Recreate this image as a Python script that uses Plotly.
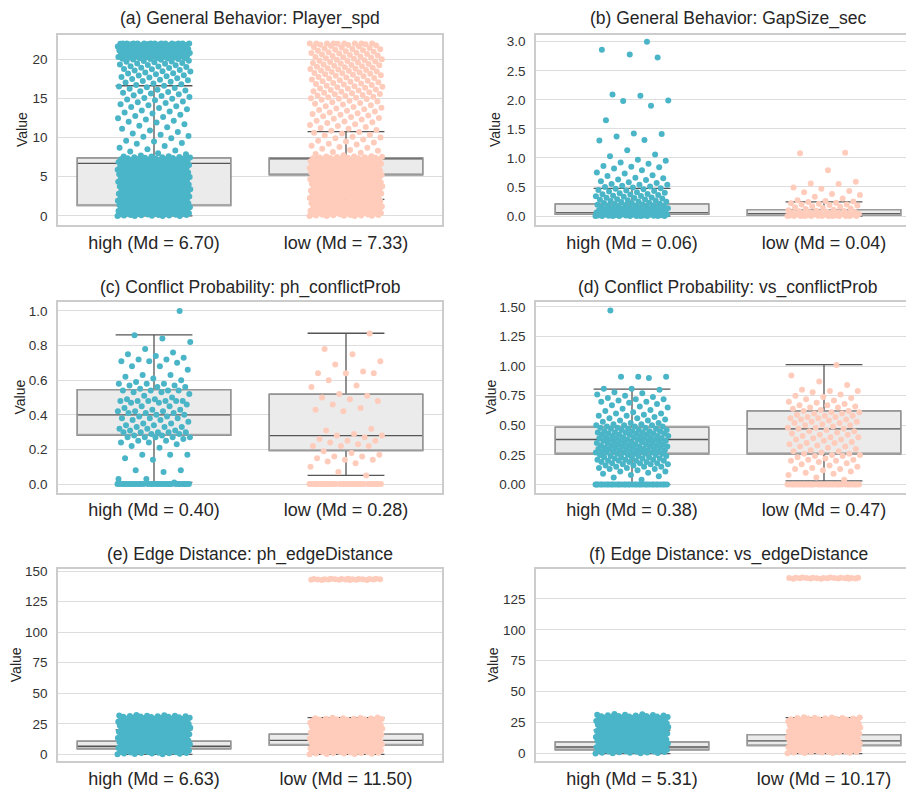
import plotly.graph_objects as go

# ---------------- data ----------------
TITLES = ["(a) General Behavior: Player_spd", "(b) General Behavior: GapSize_sec",
          "(c) Conflict Probability: ph_conflictProb", "(d) Conflict Probability: vs_conflictProb",
          "(e) Edge Distance: ph_edgeDistance", "(f) Edge Distance: vs_edgeDistance"]
GROUPS = ["high", "low"]
MEDIANS = [[6.70, 7.33], [0.06, 0.04], [0.40, 0.28], [0.38, 0.47], [6.63, 11.50], [5.31, 10.17]]
Q1 = [[1.33, 5.25], [0.03, 0.011], [0.282, 0.193], [0.259, 0.259], [4.5, 7.5], [3.0, 6.4]]
Q3 = [[7.4, 7.4], [0.21, 0.11], [0.545, 0.52], [0.484, 0.622], [10.8, 16.5], [9.5, 15.3]]
LOWER_FENCE = [[0.0, 2.1], [0.0, 0.0], [0.01, 0.05], [0.0, 0.03], [0.0, 0.0], [0.0, 0.0]]
UPPER_FENCE = [[16.6, 10.75], [0.475, 0.245], [0.862, 0.871], [0.805, 1.013], [20.0, 30.0], [19.0, 29.0]]
Y_TICKS = [[0, 5, 10, 15, 20], [0, 0.5, 1.0, 1.5, 2.0, 2.5, 3.0], [0, 0.2, 0.4, 0.6, 0.8, 1.0],
           [0, 0.25, 0.5, 0.75, 1.0, 1.25, 1.5], [0, 25, 50, 75, 100, 125, 150], [0, 25, 50, 75, 100, 125]]

A_HIGH = [0.0, 0.0, 0.0, 0.0, 0.02, 0.05, 0.07, 0.1, 0.12, 0.15, 0.18, 0.2, 0.24, 0.27, 0.3, 0.33, 0.35, 0.38,
          0.42, 0.45, 0.48, 0.5, 0.54, 0.57, 0.6, 0.63, 0.66, 0.7, 0.72, 0.75, 0.79, 0.82, 0.85, 0.88, 0.9, 0.94,
          0.97, 1.0, 1.04, 1.07, 1.1, 1.13, 1.16, 1.2, 1.23, 1.26, 1.3, 1.33, 1.36, 1.4, 1.43, 1.46, 1.5, 1.54,
          1.57, 1.6, 1.64, 1.67, 1.7, 1.74, 1.78, 1.81, 1.85, 1.88, 1.92, 1.95, 2.0, 2.04, 2.08, 2.12, 2.16, 2.2,
          2.24, 2.28, 2.32, 2.36, 2.4, 2.45, 2.5, 2.54, 2.58, 2.62, 2.66, 2.7, 2.75, 2.8, 2.84, 2.88, 2.92, 2.96,
          3.0, 3.05, 3.1, 3.14, 3.18, 3.22, 3.27, 3.32, 3.36, 3.4, 3.45, 3.5, 3.54, 3.58, 3.62, 3.67, 3.72, 3.76,
          3.8, 3.85, 3.9, 3.94, 3.98, 4.02, 4.07, 4.12, 4.16, 4.2, 4.25, 4.3, 4.34, 4.38, 4.43, 4.48, 4.52, 4.56,
          4.6, 4.65, 4.7, 4.74, 4.78, 4.83, 4.88, 4.92, 4.96, 5.0, 5.05, 5.1, 5.14, 5.18, 5.23, 5.28, 5.32, 5.36,
          5.4, 5.45, 5.5, 5.54, 5.58, 5.62, 5.67, 5.72, 5.76, 5.8, 5.85, 5.9, 5.94, 5.98, 6.02, 6.07, 6.12, 6.16,
          6.2, 6.25, 6.3, 6.34, 6.38, 6.42, 6.47, 6.52, 6.56, 6.6, 6.65, 6.7, 6.74, 6.78, 6.82, 6.87, 6.92, 6.96,
          7.0, 7.05, 7.1, 7.14, 7.18, 7.22, 7.27, 7.32, 7.36, 7.4, 7.44, 7.48, 7.52, 7.56, 7.6,
          0.04, 0.11, 0.19, 0.26, 0.34, 0.41, 0.49, 0.57, 0.64, 0.72, 0.8, 0.87, 0.95, 1.02, 1.1, 1.18, 1.25,
          1.33, 1.4, 1.48, 1.56, 1.63, 1.71, 1.78, 1.86, 1.94, 2.01, 2.09, 2.16, 2.24, 2.32, 2.39, 2.47, 2.54,
          2.62, 2.7, 2.77, 2.85, 2.92, 3.0, 3.08, 3.15, 3.23, 3.3, 3.38, 3.46, 3.53, 3.61, 3.68, 3.76, 3.84,
          3.91, 3.99, 4.06, 4.14, 4.22, 4.29, 4.37, 4.44, 4.52, 4.6, 4.67, 4.75, 4.82, 4.9, 4.98, 5.05, 5.13,
          5.2, 5.28, 5.36, 5.43, 5.51, 5.58, 5.66, 5.74, 5.81, 5.89, 5.96, 6.04, 6.12, 6.19, 6.27, 6.34, 6.42,
          6.5, 6.57, 6.65, 6.72, 6.8, 6.88, 6.95, 7.03, 7.1, 7.18, 7.26, 7.33, 7.41, 7.48, 7.56,
          7.7, 7.85, 8.0, 8.2, 8.35, 8.5, 8.7, 8.9, 9.2, 9.3, 9.5, 9.6, 9.9, 10.1, 10.2, 10.35, 10.5, 10.7, 10.9,
          11.1, 11.3, 11.5, 11.7, 11.9, 12.0, 12.15, 12.3, 12.45, 12.6, 12.75, 12.9, 13.05, 13.2, 13.3, 13.45,
          13.6, 13.75, 13.9, 14.0, 14.1, 14.25, 14.4, 14.5, 14.6, 14.75, 14.85, 14.95, 15.05, 15.15, 15.3, 15.4,
          15.5, 15.6, 15.7, 15.8, 15.9, 16.0, 16.1, 16.2, 16.3, 16.4, 16.5, 16.6, 16.7, 16.8, 16.9, 17.0, 17.1,
          17.2, 17.3, 17.35, 17.45, 17.55, 17.65, 17.7, 17.8, 17.9, 17.95, 18.05, 18.15, 18.2, 18.3, 18.4, 18.45,
          18.55, 18.6, 18.7, 18.75, 18.85, 18.9, 19.0, 19.05, 19.1, 19.2, 19.25, 19.3, 19.4, 19.45, 19.5, 19.6,
          19.65, 19.7, 19.75, 19.8, 19.9, 19.95, 20.0, 20.05, 20.1, 20.15, 20.2, 20.25, 20.3, 20.35, 20.4, 20.45,
          20.5, 20.55, 20.6, 20.65, 20.7, 20.75, 20.8, 20.85, 20.9, 20.95, 21.0, 21.05, 21.1, 21.15, 21.2, 21.25,
          21.3, 21.35, 21.4, 21.45, 21.5, 21.55, 21.6, 21.65, 21.7, 21.75, 21.8, 21.85, 21.9, 21.95, 22.0, 22.0,
          22.0, 22.0, 22.0, 22.0, 22.0, 22.0, 22.0, 22.0, 22.0, 22.0,
          20.02, 20.08, 20.12, 20.18, 20.22, 20.28, 20.32, 20.38, 20.42, 20.48, 20.52, 20.58, 20.62, 20.68,
          20.72, 20.78, 20.82, 20.88, 20.92, 20.98, 21.02, 21.08, 21.12, 21.18, 21.22, 21.28, 21.32, 21.38,
          21.42, 21.48, 21.52, 21.58, 21.62, 21.68, 21.72, 21.78, 21.82, 21.88, 21.92, 21.98]
A_LOW = [0.0, 0.0, 0.0, 0.01, 0.03, 0.06, 0.09, 0.11, 0.14, 0.17, 0.2, 0.22, 0.25, 0.29, 0.31, 0.34, 0.37, 0.4,
         0.43, 0.46, 0.49, 0.52, 0.55, 0.58, 0.61, 0.64, 0.68, 0.71, 0.74, 0.77, 0.8, 0.83, 0.87, 0.9, 0.93, 0.96,
         1.0, 1.05, 1.11, 1.16, 1.22, 1.27, 1.33, 1.38, 1.44, 1.5, 1.55, 1.61, 1.66, 1.72, 1.77, 1.83, 1.89, 1.94,
         2.0, 2.05, 2.11, 2.17, 2.22, 2.28, 2.33, 2.39, 2.45, 2.5, 2.54, 2.58, 2.62, 2.66, 2.7, 2.74, 2.78, 2.82,
         2.86, 2.9, 2.94, 2.98, 3.02, 3.06, 3.1, 3.14, 3.18, 3.22, 3.26, 3.3, 3.34, 3.38, 3.42, 3.46, 3.5, 3.54,
         3.58, 3.62, 3.66, 3.7, 3.74, 3.78, 3.82, 3.86, 3.9, 3.94, 3.98, 4.02, 4.06, 4.1, 4.14, 4.18, 4.22, 4.26,
         4.3, 4.34, 4.38, 4.42, 4.46, 4.5, 4.54, 4.58, 4.62, 4.66, 4.7, 4.74, 4.78, 4.82, 4.86, 4.9, 4.94, 4.98,
         5.02, 5.06, 5.1, 5.14, 5.18, 5.22, 5.26, 5.3, 5.34, 5.38, 5.42, 5.46, 5.5, 5.54, 5.58, 5.62, 5.66, 5.7,
         5.74, 5.78, 5.82, 5.86, 5.9, 5.94, 5.98, 6.02, 6.06, 6.1, 6.14, 6.18, 6.22, 6.26, 6.3, 6.34, 6.38, 6.42,
         6.46, 6.5, 6.54, 6.58, 6.62, 6.66, 6.7, 6.74, 6.78, 6.82, 6.86, 6.9, 6.94, 6.98, 7.02, 7.06, 7.1, 7.14,
         7.18, 7.22, 7.26, 7.3, 7.34, 7.38, 7.42, 7.46, 7.5, 7.54, 7.58, 7.62,
         0.05, 0.12, 0.2, 0.27, 0.35, 0.42, 0.5, 0.58, 0.65, 0.73, 0.81, 0.88, 0.96, 1.03, 1.11, 1.19, 1.26,
         1.34, 1.41, 1.49, 1.57, 1.64, 1.72, 1.79, 1.87, 1.95, 2.02, 2.1, 2.17, 2.25, 2.33, 2.4, 2.48, 2.55,
         2.63, 2.71, 2.78, 2.86, 2.93, 3.01, 3.09, 3.16, 3.24, 3.31, 3.39, 3.47, 3.54, 3.62, 3.69, 3.77, 3.85,
         3.92, 4.0, 4.07, 4.15, 4.23, 4.3, 4.38, 4.45, 4.53, 4.61, 4.68, 4.76, 4.83, 4.91, 4.99, 5.06, 5.14,
         5.21, 5.29, 5.37, 5.44, 5.52, 5.59, 5.67, 5.75, 5.82, 5.9, 5.97, 6.05, 6.13, 6.2, 6.28, 6.35, 6.43,
         6.51, 6.58, 6.66, 6.73, 6.81, 6.89, 6.96, 7.04, 7.11, 7.19, 7.27, 7.34, 7.42, 7.49, 7.57,
         7.75, 7.9, 8.05, 8.15, 8.3, 8.4, 8.55, 8.7, 8.8, 8.95, 9.1, 9.2, 9.35, 9.5, 9.6, 9.75, 9.9,
         10.0, 10.1, 10.25, 10.35, 10.5, 10.6, 10.7, 10.85, 10.95, 11.1, 11.2, 11.35, 11.45, 11.6, 11.7, 11.85,
         11.95, 12.05, 12.15, 12.3, 12.4, 12.5, 12.6, 12.7, 12.8, 12.9, 13.0, 13.1, 13.2, 13.3, 13.4, 13.5, 13.6,
         13.7, 13.8, 13.9, 14.0, 14.1, 14.2, 14.3, 14.4, 14.5, 14.6, 14.7, 14.8, 14.9, 14.95,
         15.0, 15.07, 15.14, 15.2, 15.28, 15.35, 15.42, 15.5, 15.56, 15.63, 15.7, 15.77, 15.84, 15.9, 15.98,
         16.05, 16.12, 16.2, 16.26, 16.33, 16.4, 16.47, 16.54, 16.6, 16.68, 16.75, 16.82, 16.9, 16.96, 17.03,
         17.1, 17.17, 17.24, 17.3, 17.38, 17.45, 17.52, 17.6, 17.66, 17.73, 17.8, 17.87, 17.94,
         18.0, 18.06, 18.12, 18.18, 18.24, 18.3, 18.36, 18.42, 18.48, 18.54, 18.6, 18.66, 18.72, 18.78, 18.84,
         18.9, 18.96, 19.02, 19.08, 19.14, 19.2, 19.26, 19.32, 19.38, 19.44, 19.5, 19.56, 19.62, 19.68, 19.74,
         19.8, 19.86, 19.92, 19.98, 20.04, 20.1, 20.16, 20.22, 20.28, 20.34, 20.4, 20.46, 20.52, 20.58, 20.64,
         20.7, 20.76, 20.82, 20.88, 20.94, 21.0, 21.06, 21.12, 21.18, 21.24, 21.3, 21.36, 21.42, 21.48, 21.54,
         21.6, 21.66, 21.72, 21.78, 21.84, 21.9, 21.96, 22.0, 22.0, 22.0, 22.0, 22.0, 22.0, 22.0, 22.0]

B_HIGH = [0.0, 0.0, 0.0, 0.0, 0.0, 0.0, 0.0, 0.0, 0.0, 0.0, 0.005, 0.005, 0.01, 0.01, 0.01, 0.015, 0.015, 0.02,
          0.02, 0.02, 0.025, 0.025, 0.03, 0.03, 0.03, 0.035, 0.035, 0.04, 0.04, 0.04, 0.045, 0.05, 0.05, 0.055,
          0.06, 0.06, 0.065, 0.07, 0.07, 0.075, 0.08, 0.08, 0.085, 0.09, 0.09, 0.095, 0.1, 0.1, 0.105, 0.11,
          0.115, 0.12, 0.12, 0.125, 0.13, 0.135, 0.14, 0.14, 0.145, 0.15, 0.155, 0.16, 0.165, 0.17, 0.175, 0.18,
          0.185, 0.19, 0.195, 0.2, 0.205, 0.21, 0.22, 0.225, 0.23, 0.24, 0.245, 0.25, 0.26, 0.265, 0.27, 0.28,
          0.285, 0.29, 0.3, 0.31, 0.315, 0.32, 0.33, 0.34, 0.345, 0.35, 0.36, 0.37, 0.375, 0.38, 0.39, 0.4, 0.41,
          0.42, 0.43, 0.44, 0.45, 0.46, 0.47, 0.48, 0.49, 0.5, 0.51, 0.52, 0.54, 0.54, 0.55, 0.57, 0.58, 0.6,
          0.62, 0.63, 0.65, 0.66, 0.69, 0.7, 0.73, 0.75, 0.79, 0.82, 0.84, 0.85, 0.86, 0.9, 0.92, 0.95, 0.97,
          1.03, 1.06, 1.13, 1.3, 1.31, 1.37, 1.41, 1.42, 1.65, 1.9, 1.98, 1.99, 2.07, 2.09, 2.73, 2.78, 2.86, 3.0]
B_LOW = [0.0, 0.0, 0.0, 0.0, 0.0, 0.0, 0.0, 0.0, 0.0, 0.0, 0.0, 0.0, 0.005, 0.01, 0.01, 0.015, 0.02, 0.02, 0.025,
         0.03, 0.03, 0.035, 0.04, 0.04, 0.045, 0.05, 0.055, 0.06, 0.065, 0.07, 0.075, 0.08, 0.085, 0.09, 0.1, 0.11,
         0.12, 0.13, 0.14, 0.15, 0.16, 0.17, 0.18, 0.19, 0.2, 0.2, 0.21, 0.22, 0.23, 0.24, 0.25, 0.26, 0.27, 0.3,
         0.33, 0.36, 0.38, 0.41, 0.43, 0.47, 0.49, 0.55, 0.56, 0.59, 0.79, 1.08, 1.09]

C_HIGH = [0.0, 0.0, 0.0, 0.0, 0.0, 0.0, 0.0, 0.0, 0.0, 0.0, 0.0, 0.0, 0.0, 0.0, 0.0, 0.0, 0.0, 0.0, 0.0, 0.0,
          0.0, 0.0, 0.0, 0.0, 0.0, 0.0, 0.0, 0.0, 0.0, 0.0, 0.0, 0.0,
          0.01, 0.03, 0.03, 0.07, 0.08, 0.08, 0.14, 0.15, 0.17, 0.17, 0.17, 0.21, 0.22, 0.23, 0.24, 0.24, 0.25,
          0.25, 0.26, 0.27, 0.27, 0.27, 0.27, 0.27, 0.28, 0.28, 0.29, 0.29, 0.3, 0.3, 0.3, 0.3, 0.3, 0.31, 0.31,
          0.32, 0.32, 0.33, 0.33, 0.33, 0.34, 0.34, 0.35, 0.35, 0.36, 0.37, 0.37, 0.38, 0.38, 0.38, 0.39, 0.39,
          0.4, 0.4, 0.41, 0.41, 0.41, 0.42, 0.42, 0.42, 0.43, 0.43, 0.44, 0.45, 0.45, 0.46, 0.47, 0.47, 0.48,
          0.48, 0.48, 0.48, 0.48, 0.48, 0.49, 0.49, 0.5, 0.51, 0.52, 0.53, 0.53, 0.54, 0.54, 0.54, 0.54, 0.55,
          0.56, 0.56, 0.57, 0.57, 0.58, 0.58, 0.58, 0.59, 0.6, 0.61, 0.62, 0.63, 0.63, 0.66, 0.68, 0.68, 0.7,
          0.71, 0.71, 0.72, 0.72, 0.73, 0.74, 0.75, 0.76, 0.78, 0.82, 0.84, 0.86, 1.0]
C_LOW = [0.0, 0.0, 0.0, 0.0, 0.0, 0.0, 0.0, 0.0, 0.0, 0.0, 0.0, 0.0, 0.0, 0.0, 0.0, 0.0, 0.0, 0.0, 0.0, 0.0,
         0.0, 0.0, 0.0, 0.0, 0.0, 0.0, 0.0, 0.0, 0.0, 0.0, 0.0, 0.0,
         0.05, 0.07, 0.1, 0.12, 0.13, 0.14, 0.14, 0.15, 0.16, 0.16, 0.17, 0.18, 0.19, 0.22, 0.22, 0.22, 0.23,
         0.24, 0.25, 0.25, 0.26, 0.27, 0.28, 0.28, 0.29, 0.31, 0.32, 0.42, 0.43, 0.44, 0.46, 0.48, 0.49, 0.5,
         0.51, 0.52, 0.56, 0.57, 0.6, 0.64, 0.64, 0.64, 0.65, 0.69, 0.71, 0.75, 0.78, 0.87]

D_HIGH = [0.0, 0.0, 0.0, 0.0, 0.0, 0.0, 0.0, 0.0, 0.0, 0.0, 0.0, 0.0, 0.0, 0.0, 0.0, 0.0, 0.0, 0.0, 0.0, 0.0,
          0.0, 0.0, 0.0, 0.0, 0.0, 0.0, 0.0, 0.0, 0.0, 0.0, 0.0, 0.0, 0.0, 0.0, 0.0,
          0.04, 0.06, 0.07, 0.08, 0.09, 0.1, 0.11, 0.11, 0.12, 0.13, 0.13, 0.14, 0.14, 0.15, 0.15, 0.15,
          0.16, 0.16, 0.17, 0.17, 0.17, 0.18, 0.18, 0.18, 0.19, 0.19, 0.19, 0.2, 0.2, 0.2, 0.2, 0.21, 0.21, 0.21,
          0.22, 0.22, 0.22, 0.23, 0.23, 0.23, 0.23, 0.24, 0.24, 0.24, 0.25, 0.25, 0.25,
          0.26, 0.26, 0.26, 0.26, 0.27, 0.27, 0.27, 0.27, 0.28, 0.28, 0.28, 0.28, 0.28, 0.29, 0.29, 0.29, 0.29,
          0.3, 0.3, 0.3, 0.3, 0.3, 0.31, 0.31, 0.31, 0.31, 0.32, 0.32, 0.32, 0.32, 0.33, 0.33, 0.33, 0.33, 0.34,
          0.34, 0.34, 0.34, 0.35, 0.35, 0.35, 0.35, 0.36, 0.36, 0.36, 0.36, 0.37, 0.37, 0.37, 0.37, 0.38, 0.38,
          0.38, 0.38, 0.39, 0.39, 0.39, 0.39, 0.4, 0.4, 0.4, 0.4, 0.41, 0.41, 0.41, 0.41, 0.42, 0.42, 0.42, 0.42,
          0.43, 0.43, 0.43, 0.43, 0.44, 0.44, 0.44, 0.44, 0.45, 0.45, 0.45, 0.45, 0.46, 0.46, 0.46, 0.47, 0.47,
          0.47, 0.48, 0.48, 0.48, 0.49, 0.49, 0.49, 0.5, 0.5, 0.5,
          0.51, 0.51, 0.52, 0.52, 0.53, 0.54, 0.54, 0.55, 0.56, 0.56, 0.57, 0.58, 0.58, 0.59, 0.6, 0.6, 0.61,
          0.62, 0.63, 0.64, 0.65, 0.66, 0.67, 0.68, 0.69, 0.7, 0.7, 0.71, 0.72, 0.72, 0.73, 0.74, 0.75, 0.76,
          0.77, 0.78, 0.8, 0.81, 0.81, 0.9, 0.91, 0.91, 0.91, 1.47]
D_LOW = [0.0, 0.0, 0.0, 0.0, 0.0, 0.0, 0.0, 0.0, 0.0, 0.0, 0.0, 0.0, 0.0, 0.0, 0.0, 0.0, 0.0, 0.0, 0.0, 0.0,
         0.0, 0.0, 0.0, 0.0, 0.0, 0.0, 0.0, 0.0, 0.0, 0.0, 0.0, 0.0,
         0.04, 0.06, 0.08, 0.09, 0.1, 0.11, 0.12, 0.13, 0.13, 0.14, 0.15,
         0.16, 0.17, 0.18, 0.19, 0.2, 0.2, 0.21, 0.21, 0.22, 0.23, 0.24, 0.24, 0.25, 0.25, 0.26, 0.26, 0.27,
         0.28, 0.28, 0.29, 0.3, 0.31, 0.32, 0.32, 0.33, 0.34, 0.35, 0.35, 0.36, 0.37, 0.38, 0.38, 0.39, 0.4, 0.4,
         0.41, 0.42, 0.42, 0.43, 0.44, 0.45, 0.45, 0.46, 0.47, 0.47, 0.48, 0.48, 0.49, 0.5, 0.5, 0.51, 0.52, 0.52,
         0.53, 0.53, 0.54, 0.55, 0.55, 0.56, 0.56, 0.57, 0.57, 0.58, 0.58, 0.59, 0.6, 0.6, 0.61, 0.61, 0.62, 0.62,
         0.63, 0.64, 0.65, 0.65, 0.66, 0.67, 0.67, 0.68, 0.69, 0.7, 0.71, 0.72, 0.73, 0.74, 0.75, 0.76, 0.78,
         0.79, 0.79, 0.8, 0.84, 0.87, 0.92, 1.01]

E_HIGH = [0.1, 0.3, 0.5, 0.8, 1.0, 1.2, 1.4, 1.7, 1.9, 2.1, 2.3, 2.6, 2.8, 3.0, 3.2, 3.5, 3.7, 3.9, 4.1, 4.4, 4.6,
          4.8, 5.0, 5.3, 5.5, 5.7, 5.9, 6.2, 6.4, 6.6, 6.8, 7.1, 7.3, 7.5, 7.7, 8.0, 8.2, 8.4, 8.6, 8.9, 9.1, 9.3,
          9.5, 9.8, 10.0, 10.2, 10.4, 10.7, 10.9, 11.1, 11.3, 11.6, 11.8, 12.0, 12.2, 12.5, 12.7, 12.9, 13.1,
          13.4, 13.6, 13.8, 14.0, 14.3, 14.5, 14.7, 14.9, 15.2, 15.4, 15.6, 15.8, 16.1, 16.3, 16.5, 16.7, 17.0,
          17.2, 17.4, 17.6, 17.9, 18.1, 18.3, 18.5, 18.8, 19.0, 19.2, 19.4, 19.7, 19.9, 20.1, 20.3, 20.6, 20.8,
          21.0, 21.2, 21.5, 21.7, 21.9, 22.1, 22.4, 22.6, 22.8, 23.0, 23.3, 23.5, 23.7, 23.9, 24.2, 24.4, 24.6,
          24.8, 25.1, 25.3, 25.5, 25.7, 26.0, 26.2, 26.4, 26.6, 26.9, 27.1, 27.3, 27.5, 27.8, 28.0, 28.2, 28.4,
          28.7, 28.9, 29.1, 29.3, 29.6, 29.8, 30.0, 30.2, 30.5, 30.7, 30.9, 31.1, 31.4, 31.6, 31.8, 32.0, 32.3,
          0.2, 0.65, 1.1, 1.55, 2.0, 2.45, 2.9, 3.35, 3.8, 4.25, 4.7, 5.15, 5.6, 6.05, 6.5, 6.95, 7.4, 7.85, 8.3,
          8.75, 9.2, 9.65, 10.1, 10.55, 11.0, 11.45, 11.9, 12.35, 12.8, 13.25, 13.7, 14.15, 14.6, 15.05, 15.5,
          15.95, 16.4, 16.85, 17.3, 17.75, 18.2, 18.65, 19.1, 19.55, 20.0, 20.45, 20.9, 21.35, 21.8, 22.25, 22.7,
          23.15, 23.6, 24.05, 24.5, 24.95, 25.4, 25.85, 26.3, 26.75, 27.2, 27.65, 28.1, 28.55, 29.0, 29.45, 29.9,
          30.35, 30.8, 31.25, 31.7]
E_LOW = [0.2, 0.4, 0.6, 0.8, 1.1, 1.3, 1.5, 1.7, 1.9, 2.1, 2.3, 2.5, 2.8, 3.0, 3.2, 3.4, 3.6, 3.8, 4.0, 4.2, 4.5,
         4.7, 4.9, 5.1, 5.3, 5.5, 5.7, 5.9, 6.2, 6.4, 6.6, 6.8, 7.0, 7.2, 7.4, 7.6, 7.9, 8.1, 8.3, 8.5, 8.7, 8.9,
         9.1, 9.3, 9.6, 9.8, 10.0, 10.2, 10.4, 10.6, 10.8, 11.0, 11.3, 11.5, 11.7, 11.9, 12.1, 12.3, 12.5, 12.7,
         13.0, 13.2, 13.4, 13.6, 13.8, 14.0, 14.2, 14.4, 14.7, 14.9, 15.1, 15.3, 15.5, 15.7, 15.9, 16.1, 16.4,
         16.6, 16.8, 17.0, 17.2, 17.4, 17.6, 17.8, 18.1, 18.3, 18.5, 18.7, 18.9, 19.1, 19.3, 19.5, 19.8, 20.0,
         20.2, 20.4, 20.6, 20.8, 21.0, 21.2, 21.5, 21.7, 21.9, 22.1, 22.3, 22.5, 22.7, 22.9, 23.2, 23.4, 23.6,
         23.8, 24.0, 24.2, 24.4, 24.6, 24.9, 25.1, 25.3, 25.5, 25.7, 25.9, 26.1, 26.3, 26.6, 26.8, 27.0, 27.2,
         27.4, 27.6, 27.8, 28.0, 28.3, 28.5, 28.7, 28.9, 29.1, 29.3, 29.5, 29.7, 29.9, 30.1,
         0.3, 0.75, 1.2, 1.65, 2.1, 2.55, 3.0, 3.45, 3.9, 4.35, 4.8, 5.25, 5.7, 6.15, 6.6, 7.05, 7.5, 7.95, 8.4,
         8.85, 9.3, 9.75, 10.2, 10.65, 11.1, 11.55, 12.0, 12.45, 12.9, 13.35, 13.8, 14.25, 14.7, 15.15, 15.6,
         16.05, 16.5, 16.95, 17.4, 17.85, 18.3, 18.75, 19.2, 19.65, 20.1, 20.55, 21.0, 21.45, 21.9, 22.35, 22.8,
         23.25, 23.7, 24.15, 24.6, 25.05, 25.5, 25.95, 26.4, 26.85, 27.3, 27.75, 28.2, 28.65, 29.1, 29.55,
         142.6, 142.7, 142.7, 142.8, 142.9, 142.9, 143.0, 143.0, 143.1, 143.1, 143.2, 143.2, 143.2, 143.3, 143.3,
         143.4, 143.4, 143.5, 143.5, 143.6, 143.6, 143.7]

F_HIGH = [0.1, 0.3, 0.5, 0.7, 0.9, 1.2, 1.4, 1.6, 1.8, 2.0, 2.3, 2.5, 2.7, 2.9, 3.1, 3.4, 3.6, 3.8, 4.0, 4.2, 4.5,
          4.7, 4.9, 5.1, 5.3, 5.6, 5.8, 6.0, 6.2, 6.4, 6.7, 6.9, 7.1, 7.3, 7.5, 7.8, 8.0, 8.2, 8.4, 8.6, 8.9, 9.1,
          9.3, 9.5, 9.7, 10.0, 10.2, 10.4, 10.6, 10.8, 11.1, 11.3, 11.5, 11.7, 11.9, 12.2, 12.4, 12.6, 12.8, 13.0,
          13.3, 13.5, 13.7, 13.9, 14.1, 14.4, 14.6, 14.8, 15.0, 15.2, 15.5, 15.7, 15.9, 16.1, 16.3, 16.6, 16.8,
          17.0, 17.2, 17.4, 17.7, 17.9, 18.1, 18.3, 18.5, 18.8, 19.0, 19.2, 19.4, 19.6, 19.9, 20.1, 20.3, 20.5,
          20.7, 21.0, 21.2, 21.4, 21.6, 21.8, 22.1, 22.3, 22.5, 22.7, 22.9, 23.2, 23.4, 23.6, 23.8, 24.0, 24.3,
          24.5, 24.7, 24.9, 25.1, 25.4, 25.6, 25.8, 26.0, 26.2, 26.5, 26.7, 26.9, 27.1, 27.3, 27.6, 27.8, 28.0,
          28.2, 28.4, 28.7, 28.9, 29.1, 29.3, 29.5, 29.8, 30.0, 30.2, 30.4, 30.7, 30.9, 31.1, 31.4, 31.7, 32.0,
          0.25, 0.7, 1.15, 1.6, 2.05, 2.5, 2.95, 3.4, 3.85, 4.3, 4.75, 5.2, 5.65, 6.1, 6.55, 7.0, 7.45, 7.9,
          8.35, 8.8, 9.25, 9.7, 10.15, 10.6, 11.05, 11.5, 11.95, 12.4, 12.85, 13.3, 13.75, 14.2, 14.65, 15.1,
          15.55, 16.0, 16.45, 16.9, 17.35, 17.8, 18.25, 18.7, 19.15, 19.6, 20.05, 20.5, 20.95, 21.4, 21.85,
          22.3, 22.75, 23.2, 23.65, 24.1, 24.55, 25.0, 25.45, 25.9, 26.35, 26.8, 27.25, 27.7, 28.15, 28.6,
          29.05, 29.5, 29.95, 30.4, 30.85, 31.3]
F_LOW = [0.2, 0.4, 0.6, 0.9, 1.1, 1.3, 1.5, 1.7, 1.9, 2.1, 2.3, 2.6, 2.8, 3.0, 3.2, 3.4, 3.6, 3.8, 4.1, 4.3, 4.5,
         4.7, 4.9, 5.1, 5.3, 5.6, 5.8, 6.0, 6.2, 6.4, 6.6, 6.8, 7.1, 7.3, 7.5, 7.7, 7.9, 8.1, 8.3, 8.6, 8.8, 9.0,
         9.2, 9.4, 9.6, 9.8, 10.1, 10.3, 10.5, 10.7, 10.9, 11.1, 11.3, 11.6, 11.8, 12.0, 12.2, 12.4, 12.6, 12.8,
         13.1, 13.3, 13.5, 13.7, 13.9, 14.1, 14.3, 14.6, 14.8, 15.0, 15.2, 15.4, 15.6, 15.8, 16.1, 16.3, 16.5,
         16.7, 16.9, 17.1, 17.3, 17.6, 17.8, 18.0, 18.2, 18.4, 18.6, 18.8, 19.1, 19.3, 19.5, 19.7, 19.9, 20.1,
         20.3, 20.6, 20.8, 21.0, 21.2, 21.4, 21.6, 21.8, 22.1, 22.3, 22.5, 22.7, 22.9, 23.1, 23.3, 23.6, 23.8,
         24.0, 24.2, 24.4, 24.6, 24.8, 25.1, 25.3, 25.5, 25.7, 25.9, 26.1, 26.3, 26.6, 26.8, 27.0, 27.2, 27.4,
         27.6, 27.8, 28.1, 28.3, 28.5, 28.7, 28.9, 29.1, 29.3,
         0.35, 0.8, 1.25, 1.7, 2.15, 2.6, 3.05, 3.5, 3.95, 4.4, 4.85, 5.3, 5.75, 6.2, 6.65, 7.1, 7.55, 8.0,
         8.45, 8.9, 9.35, 9.8, 10.25, 10.7, 11.15, 11.6, 12.05, 12.5, 12.95, 13.4, 13.85, 14.3, 14.75, 15.2,
         15.65, 16.1, 16.55, 17.0, 17.45, 17.9, 18.35, 18.8, 19.25, 19.7, 20.15, 20.6, 21.05, 21.5, 21.95,
         22.4, 22.85, 23.3, 23.75, 24.2, 24.65, 25.1, 25.55, 26.0, 26.45, 26.9, 27.35, 27.8, 28.25, 28.7,
         29.15,
         141.2, 141.3, 141.3, 141.4, 141.5, 141.5, 141.6, 141.6, 141.7, 141.7, 141.8, 141.8, 141.8, 141.9,
         141.9, 142.0, 142.0, 142.1, 142.1, 142.2, 142.2, 142.3]

SERIES = [[A_HIGH, A_LOW], [B_HIGH, B_LOW], [C_HIGH, C_LOW], [D_HIGH, D_LOW], [E_HIGH, E_LOW], [F_HIGH, F_LOW]]

# ---------------- style / layout ----------------
W, H = 906, 791
FONT = "Arial, Liberation Sans, sans-serif"
COLORS = ["#4BB5C8", "#FFCCBB"]
COL_PX = [(58, 442), (536, 906)]
ROW_PX = [(30, 222), (299.5, 491.5), (568.5, 762)]
UNIT_PX = 192.0
Y_RANGES = [[-1.2, 23.1], [-0.16, 3.12], [-0.05, 1.05], [-0.07, 1.54], [-5.6, 151.5], [-6.2, 149.0]]
Y_FORMATS = ["d", ".1f", ".1f", ".2f", "d", "d"]
TITLE_X = [250, 728]
TITLE_Y = [14, 285, 554]
VALUE_X = [22, 495, 19, 490, 16, 493]
PHI = 0.6180339887498949
JIT = 0.19

fig = go.Figure()
layout = dict(width=W, height=H, margin=dict(l=0, r=0, t=0, b=0), paper_bgcolor="white",
              plot_bgcolor="white", showlegend=False, boxmode="overlay",
              font=dict(family=FONT, color="#333333"))
annotations = []

for k in range(6):
    row, col = k // 2, k % 2
    sfx = "" if k == 0 else str(k + 1)
    xa, ya = "x" + sfx, "y" + sfx
    for g in range(2):
        fig.add_trace(go.Box(
            x=[g], q1=[Q1[k][g]], median=[MEDIANS[k][g]], q3=[Q3[k][g]],
            lowerfence=[LOWER_FENCE[k][g]], upperfence=[UPPER_FENCE[k][g]],
            width=0.8, whiskerwidth=0.5, fillcolor="#EBEBEB",
            line=dict(color="#555555", width=1.3), boxpoints=False,
            xaxis=xa, yaxis=ya, hoverinfo="skip"))
        fig.add_trace(go.Box(
            x=[g], q1=[Q1[k][g]], median=[Q1[k][g]], q3=[Q3[k][g]],
            lowerfence=[Q1[k][g]], upperfence=[Q3[k][g]],
            width=0.8, whiskerwidth=0, fillcolor="rgba(0,0,0,0)",
            line=dict(color="#A8A8A8", width=1), boxpoints=False,
            xaxis=xa, yaxis=ya, hoverinfo="skip"))
    for g in range(2):
        vals = sorted(SERIES[k][g])
        xs = [g + (((i * PHI) % 1.0) - 0.5) * 2 * JIT for i in range(len(vals))]
        fig.add_trace(go.Scatter(
            x=xs, y=vals, mode="markers",
            marker=dict(color=COLORS[g], size=6.0, opacity=1.0, line=dict(width=0)),
            xaxis=xa, yaxis=ya, hoverinfo="skip"))

    x0, x1 = COL_PX[col]
    top, bot = ROW_PX[row]
    xr = [-0.5, -0.5 + (x1 - x0) / UNIT_PX]
    labels = [f"{GROUPS[g]} (Md = {MEDIANS[k][g]:.2f})" for g in range(2)]
    layout["xaxis" + sfx] = dict(
        domain=[x0 / W, x1 / W], range=xr, anchor=ya, tickvals=[0, 1], ticktext=labels,
        showgrid=False, zeroline=False, showline=True, mirror=True, linecolor="#CCCCCC",
        linewidth=1.5, ticks="", tickfont=dict(size=18, color="#262626"), ticklabelstandoff=0,
        fixedrange=True)
    layout["yaxis" + sfx] = dict(
        domain=[1 - bot / H, 1 - top / H], range=Y_RANGES[k], anchor=xa, tickvals=Y_TICKS[k],
        tickformat=Y_FORMATS[k], showgrid=True, gridcolor="#DDDDDD", gridwidth=1, zeroline=False,
        showline=True, mirror=(col == 0), linecolor="#CCCCCC", linewidth=1.5, ticks="",
        tickfont=dict(size=13.5, color="#333333"), ticklabelstandoff=6, fixedrange=True)
    annotations.append(dict(text=TITLES[k], x=TITLE_X[col] / W, y=1 - TITLE_Y[row] / H,
                            xref="paper", yref="paper", showarrow=False, xanchor="center",
                            yanchor="middle", font=dict(size=17.5, color="#262626", family=FONT)))
    annotations.append(dict(text="Value", x=VALUE_X[k] / W, y=1 - (top + bot) / 2 / H,
                            xref="paper", yref="paper", showarrow=False, xanchor="center",
                            yanchor="middle", textangle=-90,
                            font=dict(size=14, color="#262626", family=FONT)))

layout["annotations"] = annotations
fig.update_layout(**layout)
fig.write_html("out.html")
